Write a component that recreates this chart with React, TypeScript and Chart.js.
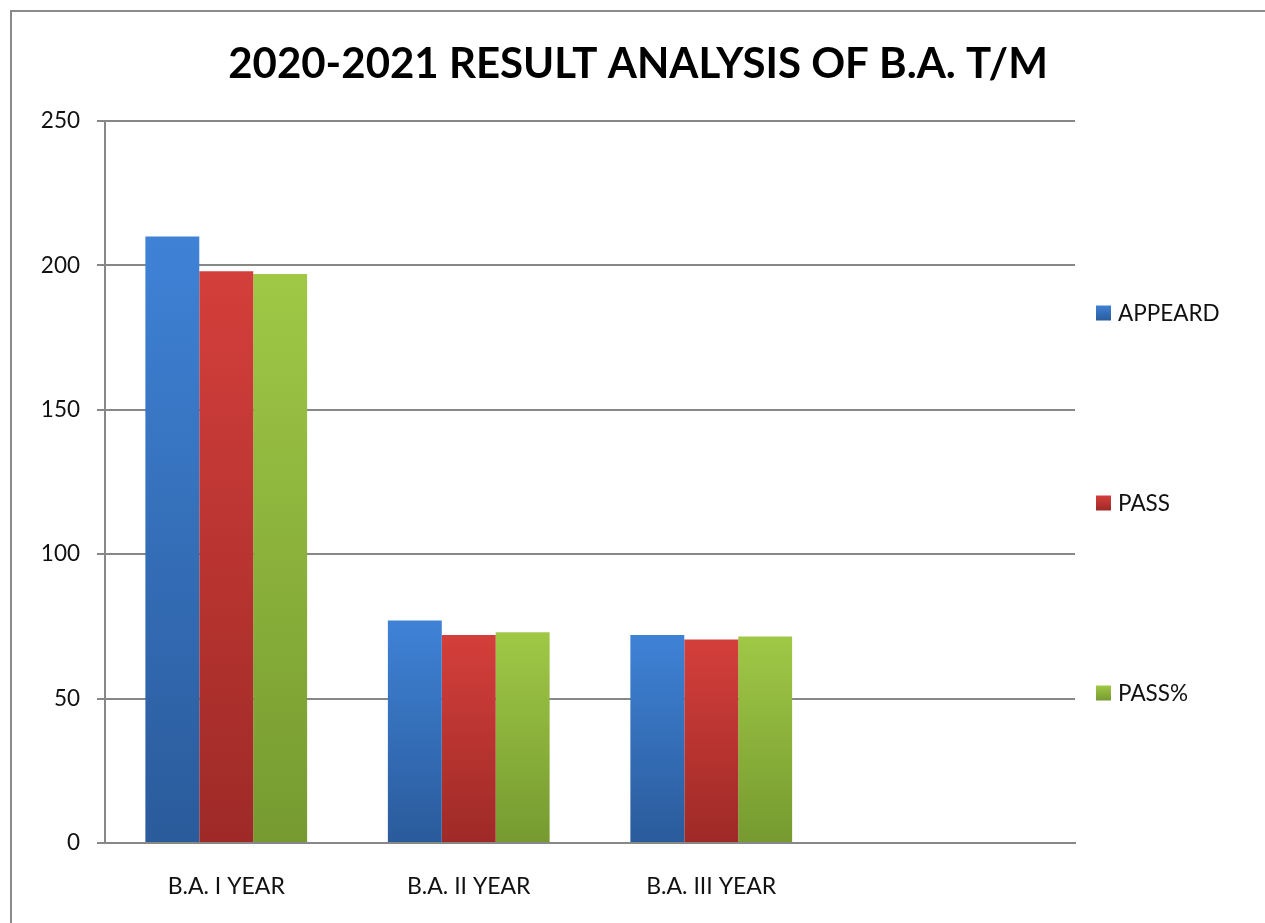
import React, { useEffect, useRef } from "react";
import { Chart, registerables } from "chart.js";

Chart.register(...registerables);

const TITLE = "2020-2021 RESULT ANALYSIS OF B.A. T/M";
const CATEGORIES = ["B.A. I YEAR", "B.A. II YEAR", "B.A. III YEAR", ""];
const SERIES_NAMES = ["APPEARD", "PASS", "PASS%"];
const APPEARD = [210, 77, 72, null];
const PASS = [198, 72, 70.5, null];
const PASS_PCT = [197, 73, 71.5, null];
const Y_MIN = 0;
const Y_MAX = 250;
const Y_STEP = 50;

const SERIES_COLORS = [
  { top: "#3f82d6", bottom: "#2a5b9b" },
  { top: "#d43f3b", bottom: "#9e2a27" },
  { top: "#a0c846", bottom: "#769a30" },
];
const GRID = "#878787";
const FONT = "Lato, 'Open Sans', sans-serif";

function gradientFill(idx: number) {
  const c = SERIES_COLORS[idx];
  return (ctx: any) => {
    const chart = ctx.chart;
    const y = chart.scales && chart.scales.y;
    if (!y || ctx.type !== "data" || ctx.raw == null) return c.top;
    const top = y.getPixelForValue(ctx.raw);
    const bot = y.getPixelForValue(0);
    if (!isFinite(top) || !isFinite(bot) || top === bot) return c.top;
    const g = chart.ctx.createLinearGradient(0, top, 0, bot);
    g.addColorStop(0, c.top);
    g.addColorStop(1, c.bottom);
    return g;
  };
}

const framePlugin = {
  id: "frame",
  beforeDraw(chart: any) {
    const { ctx, width, height } = chart;
    ctx.save();
    ctx.fillStyle = "#ffffff";
    ctx.fillRect(0, 0, width, height);
    ctx.strokeStyle = "#8a8a8a";
    ctx.lineWidth = 2;
    ctx.beginPath();
    ctx.moveTo(11, height + 5);
    ctx.lineTo(11, 11);
    ctx.lineTo(width + 5, 11);
    ctx.stroke();
    ctx.restore();
  },
};

const titlePlugin = {
  id: "sideTitle",
  afterDraw(chart: any) {
    const { ctx } = chart;
    ctx.save();
    ctx.font = `bold 42px ${FONT}`;
    ctx.fillStyle = "#000000";
    ctx.textAlign = "center";
    ctx.textBaseline = "alphabetic";
    ctx.fillText(TITLE, 638, 78);
    ctx.restore();
  },
};

const sideLegendPlugin = {
  id: "sideLegend",
  afterDraw(chart: any) {
    const { ctx } = chart;
    const x = 1096;
    const y0 = 313;
    const gap = 190;
    const box = 15;
    ctx.save();
    ctx.font = `22.5px ${FONT}`;
    ctx.textBaseline = "middle";
    ctx.textAlign = "left";
    chart.data.datasets.forEach((ds: any, i: number) => {
      const cy = y0 + i * gap;
      const c = SERIES_COLORS[i];
      const g = ctx.createLinearGradient(0, cy - box / 2, 0, cy + box / 2);
      g.addColorStop(0, c.top);
      g.addColorStop(1, c.bottom);
      ctx.fillStyle = g;
      ctx.fillRect(x, cy - box / 2, box, box);
      ctx.fillStyle = "#111111";
      ctx.fillText(ds.label, x + box + 7, cy + 1);
    });
    ctx.restore();
  },
};

export default function App() {
  const ref = useRef<HTMLCanvasElement | null>(null);

  useEffect(() => {
    if (!ref.current) return;
    const series = [APPEARD, PASS, PASS_PCT];
    const chart = new Chart(ref.current, {
      type: "bar",
      data: {
        labels: CATEGORIES,
        datasets: series.map((d, i) => ({
          label: SERIES_NAMES[i],
          data: d,
          backgroundColor: gradientFill(i),
          borderWidth: 0,
          categoryPercentage: 0.667,
          barPercentage: 1,
        })),
      },
      options: {
        animation: false,
        responsive: true,
        maintainAspectRatio: false,
        layout: { padding: { top: 121, left: 0, right: 190, bottom: 0 } },
        plugins: {
          legend: { display: false },
          tooltip: { enabled: false },
          title: { display: false },
        },
        scales: {
          x: {
            grid: { display: false, drawTicks: false },
            border: { display: true, color: GRID, width: 2 },
            ticks: {
              color: "#111111",
              font: { family: FONT, size: 23 },
              padding: 30,
              maxRotation: 0,
              autoSkip: false,
            },
            afterFit: (s: any) => {
              s.height = 80;
            },
          },
          y: {
            min: Y_MIN,
            max: Y_MAX,
            grid: { color: GRID, lineWidth: 2, drawTicks: true, tickLength: 8 },
            border: { display: true, color: GRID, width: 2 },
            ticks: {
              stepSize: Y_STEP,
              color: "#111111",
              font: { family: FONT, size: 22.5 },
              padding: 17,
            },
            afterFit: (s: any) => {
              s.width = 105;
            },
          },
        },
      },
      plugins: [framePlugin, titlePlugin, sideLegendPlugin],
    });
    return () => chart.destroy();
  }, []);

  return (
    <div
      style={{
        position: "fixed",
        left: 0,
        top: 0,
        width: 1265,
        height: 923,
        background: "#ffffff",
      }}
    >
      <canvas ref={ref} />
    </div>
  );
}
